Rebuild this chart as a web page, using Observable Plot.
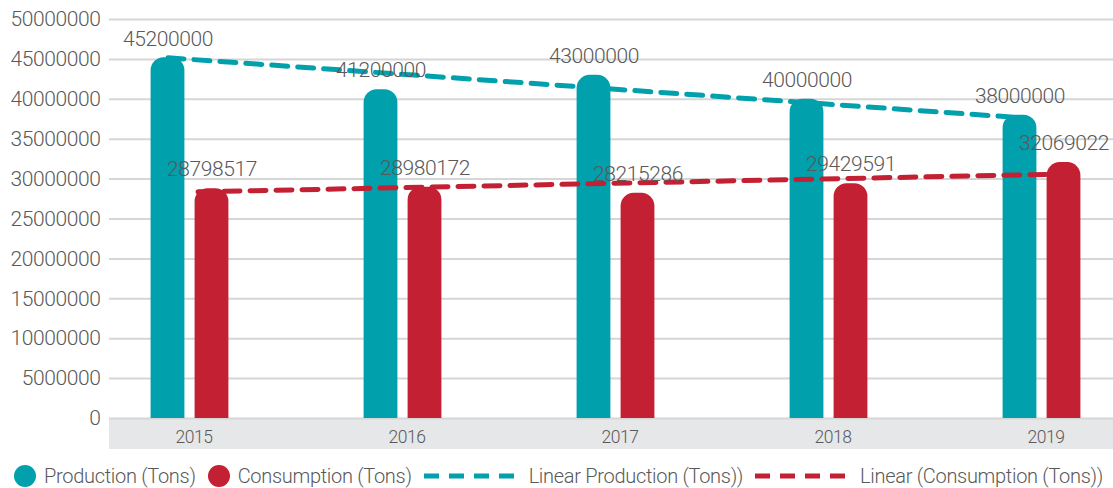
<!DOCTYPE html>
<html>
<head>
<meta charset="utf-8">
<script src="https://cdn.jsdelivr.net/npm/d3@7"></script>
<script src="https://cdn.jsdelivr.net/npm/@observablehq/plot@0.6"></script>
<style>
  body { margin: 0; background: #fff; font-family: Roboto, sans-serif; font-weight: 300; color: #595959; }
  #legend { display: flex; align-items: center; height: 30px; margin-top: 12px; padding-left: 14px; font-size: 20px; white-space: nowrap; letter-spacing: -0.3px; }
  .item { display: flex; align-items: center; margin-right: 12px; }
  .dot { width: 22px; height: 22px; border-radius: 50%; margin-right: 8px; }
  .dash { margin-right: 13px; display: block; }
</style>
</head>
<body>
<div id="chart"></div>
<div id="legend"></div>
<script>
// Yearly figures, in tons
const years = ["2015", "2016", "2017", "2018", "2019"];
const production = [45200000, 41200000, 43000000, 40000000, 38000000];
const consumption = [28798517, 28980172, 28215286, 29429591, 32069022];

// Linear trend lines, start (2015) and end (2019) values
const trendYears = ["2015", "2019"];
const productionTrend = [45200000, 37700000];
const consumptionTrend = [28400000, 30600000];

const yTicks = [0, 5000000, 10000000, 15000000, 20000000, 25000000, 30000000, 35000000, 40000000, 45000000, 50000000];

const teal = "#00a0ad";
const red = "#c32033";
const ink = "#595959";

const prodRows = years.map((year, i) => ({year, value: production[i]}));
const consRows = years.map((year, i) => ({year, value: consumption[i]}));
const prodTrendRows = trendYears.map((year, i) => ({year, value: productionTrend[i]}));
const consTrendRows = trendYears.map((year, i) => ({year, value: consumptionTrend[i]}));

const fmt = d3.format("d");

const chart = Plot.plot({
  width: 1113,
  height: 449,
  marginLeft: 109,
  marginRight: 0,
  marginTop: 19,
  marginBottom: 31,
  style: {fontFamily: "Roboto, sans-serif", fontWeight: 300, color: ink, background: "transparent", overflow: "visible", letterSpacing: "-0.4px"},
  x: {type: "band", domain: years, range: [82.4, 1148.4], padding: 0},
  y: {domain: [0, 50000000]},
  marks: [
    // grey category band under the baseline
    Plot.rect([0], {y1: () => 0, y2: () => -3875000, fill: "#e6e7e8"}),
    Plot.ruleY(yTicks, {stroke: "#d6d6d6", strokeWidth: 2}),
    Plot.barY(prodRows, {x: "year", y: "value", fill: teal, insetLeft: 89.6, insetRight: 89.6, dx: -22, ry1: 13}),
    Plot.barY(consRows, {x: "year", y: "value", fill: red, insetLeft: 89.6, insetRight: 89.6, dx: 22, ry1: 13}),
    Plot.line(prodTrendRows, {x: "year", y: "value", stroke: teal, strokeWidth: 5, strokeDasharray: "16,10", dx: -22}),
    Plot.line(consTrendRows, {x: "year", y: "value", stroke: red, strokeWidth: 5, strokeDasharray: "16,10", dx: 8}),
    Plot.text(prodRows, {x: "year", y: "value", text: d => fmt(d.value), dx: -22, dy: -19, fontSize: 21, fill: ink}),
    Plot.text(consRows, {x: "year", y: "value", text: d => fmt(d.value), dx: 22, dy: -19, fontSize: 21, fill: ink}),
    Plot.axisY(yTicks, {tickSize: 0, tickPadding: 9, fontSize: 21, tickFormat: fmt, label: null, fill: ink}),
    Plot.axisX({tickSize: 0, tickPadding: 12, fontSize: 17.5, dx: 4, label: null, fill: ink})
  ]
});
document.getElementById("chart").append(chart);

// Legend
const legendItems = [
  {label: "Production (Tons)", color: teal, kind: "dot"},
  {label: "Consumption (Tons)", color: red, kind: "dot"},
  {label: "Linear Production (Tons))", color: teal, kind: "dash"},
  {label: "Linear (Consumption (Tons))", color: red, kind: "dash"}
];
const legend = d3.select("#legend");
for (const item of legendItems) {
  const el = legend.append("div").attr("class", "item");
  if (item.kind === "dot") {
    el.append("div").attr("class", "dot").style("background", item.color);
  } else {
    const svg = el.append("svg").attr("class", "dash").attr("width", 92).attr("height", 6);
    svg.append("line").attr("x1", 0).attr("x2", 92).attr("y1", 3).attr("y2", 3)
      .attr("stroke", item.color).attr("stroke-width", 5).attr("stroke-dasharray", "15,10");
  }
  el.append("span").text(item.label);
}
</script>
</body>
</html>
